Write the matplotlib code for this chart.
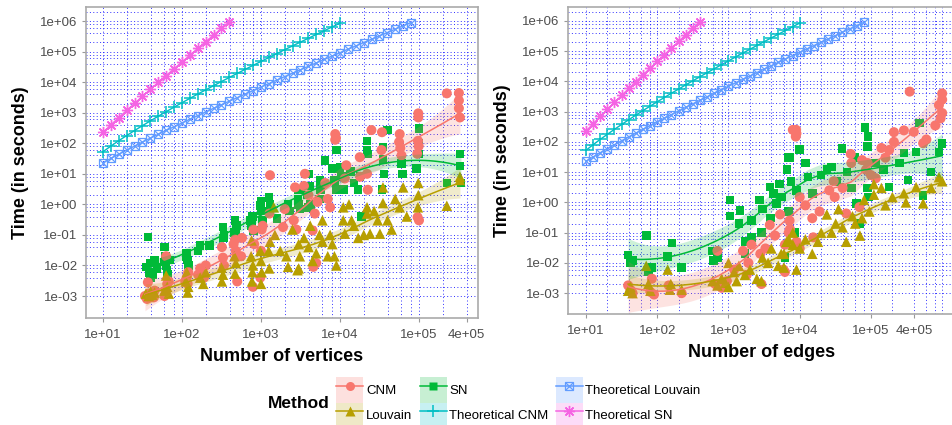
#! /usr/bin/env python3
import numpy as np
import matplotlib
matplotlib.use('Agg')
import matplotlib.pyplot as plt
from matplotlib.lines import Line2D
from matplotlib.patches import Patch
from matplotlib.ticker import NullLocator

plt.rcParams['font.family'] = ['Liberation Sans', 'DejaVu Sans']

# ---- data ------------------------------------------------------------------
# left panel: number of vertices vs time (s)
sn_v = [37, 35, 38, 40, 42, 45, 48, 40, 60, 62, 63, 65, 60, 66, 70, 115, 118,
        112, 120, 170, 160, 224, 330, 340, 335, 470, 480, 460, 500, 780, 760,
        800, 740, 1000, 1000, 1050, 980, 1260, 1300, 1250, 1600, 2200, 2300,
        3000, 2950, 3100, 3000, 4000, 4100, 3900, 4200, 4000, 5600, 5700, 5500,
        6500, 8000, 8500, 9000, 10000, 11000, 10500, 9100, 13500, 15000, 18000,
        17000, 22000, 22000, 22500, 18600, 35000, 35000, 36000, 34000, 40000,
        60000, 62000, 93000, 100000, 100000, 100000, 225000, 330000, 330000,
        340000]
sn_v_t = [0.085, 0.009, 0.006, 0.012, 0.005, 0.015, 0.008, 0.004, 0.04, 0.02,
          0.01, 0.007, 0.013, 0.005, 0.015, 0.025, 0.015, 0.02, 0.01, 0.045,
          0.03, 0.045, 0.18, 0.1, 0.08, 0.3, 0.15, 0.12, 0.2, 0.4, 0.2, 0.14,
          0.3, 1.3, 0.6, 0.3, 0.9, 1.7, 1.0, 0.6, 0.35, 1.0, 0.6, 3, 1.5, 0.7,
          1.0, 10, 4, 2, 1.0, 0.8, 6, 3, 1.5, 27, 15, 6, 3, 16, 3, 8, 60, 12, 5,
          8, 3, 120, 60, 45, 0.4, 75, 30, 10, 3, 270, 22, 10, 15, 300, 100, 45,
          5, 45, 18, 5]

cnm_v = [34, 36, 38, 40, 42, 45, 37, 44, 60, 62, 63, 65, 68, 115, 110, 120,
         118, 160, 170, 190, 200, 330, 320, 340, 470, 480, 500, 450, 575, 560,
         800, 790, 820, 1020, 1000, 1050, 980, 1300, 1280, 1900, 2000, 2700,
         2800, 2600, 3600, 3500, 4500, 5000, 4600, 4000, 4800, 5200, 8700, 8700,
         8900, 7000, 6500, 7500, 12000, 11500, 17800, 18000, 22000, 22500,
         25000, 34000, 33500, 57000, 56000, 58000, 60000, 98000, 98000, 97000,
         99000, 96000, 100000, 95000, 225000, 320000, 320000, 320000, 330000]
cnm_v_t = [0.001, 0.0008, 0.0012, 0.0009, 0.001, 0.0015, 0.0028, 0.0009,
           0.001, 0.0015, 0.02, 0.0025, 0.003, 0.004, 0.003, 0.006, 0.0025,
           0.005, 0.008, 0.004, 0.01, 0.018, 0.04, 0.01, 0.07, 0.03, 0.003,
           0.05, 0.08, 0.02, 0.15, 0.002, 0.05, 0.15, 0.03, 0.2, 0.004, 9, 0.5,
           0.18, 0.7, 3.6, 0.15, 0.3, 10, 4, 0.14, 0.012, 0.009, 2, 0.5, 1.2,
           200, 130, 150, 1.5, 5, 0.8, 19, 7, 35, 8, 10, 3, 270, 230, 60, 200,
           110, 70, 40, 950, 700, 120, 80, 0.38, 0.3, 45, 4300, 4400, 2500,
           1400, 700]

lv_v = [35, 38, 40, 42, 45, 63, 65, 60, 68, 115, 112, 118, 120, 186, 170, 200,
        316, 320, 330, 470, 480, 460, 760, 750, 780, 770, 790, 1000, 1000, 1020,
        980, 1250, 1270, 1300, 1450, 1750, 2200, 2100, 3000, 2900, 3100, 3500,
        4000, 4500, 5000, 6000, 7000, 7500, 8000, 5500, 4200, 11000, 11000,
        11500, 17000, 22000, 22000, 24000, 32000, 35000, 35000, 40000, 57000,
        63000, 98000, 98000, 97000, 225000, 330000, 330000, 1500, 2500, 6000,
        9000, 8500, 14000, 20000, 30000, 45000, 70000, 50000, 3000, 15000,
        13000, 27000]
lv_v_t = [0.0012, 0.001, 0.0014, 0.0011, 0.0013, 0.0047, 0.002, 0.0015,
          0.0012, 0.006, 0.003, 0.0013, 0.002, 0.0025, 0.004, 0.006, 0.0085,
          0.003, 0.005, 0.0054, 0.012, 0.02, 0.066, 0.02, 0.006, 0.003, 0.01,
          0.014, 0.0025, 0.006, 0.03, 0.03, 0.008, 0.06, 0.8, 0.03, 0.009, 0.02,
          0.05, 0.007, 0.02, 0.08, 0.04, 0.014, 0.025, 0.06, 0.02, 0.1, 0.05,
          0.1, 0.2, 0.8, 0.3, 0.11, 0.08, 0.8, 0.5, 0.11, 0.11, 3.6, 1.1, 0.3,
          0.8, 3.6, 5, 2, 0.8, 0.9, 8, 6.3, 0.1, 0.15, 0.3, 0.01, 0.02, 0.3,
          0.1, 0.3, 0.15, 0.4, 1.5, 0.008, 0.2, 1.0, 0.6]

# right panel: number of edges vs time (s)
sn_e = [39, 71, 84, 140, 160, 220, 600, 620, 700, 1050, 1050, 1450, 1400,
        1700, 1700, 2100, 2100, 2750, 2900, 3800, 3900, 4700, 5200, 5500, 6800,
        6900, 6200, 7200, 6600, 7500, 9000, 10000, 13000, 15000, 24000, 33000,
        39000, 46000, 53000, 83000, 91000, 90000, 90000, 92000, 63000, 70000,
        115000, 180000, 290000, 330000, 430000, 480000, 540000, 900000,
        1000000, 8500, 42, 45, 75, 3000, 4300, 12000, 20000, 28000, 60000,
        150000, 250000, 700000]
sn_e_t = [0.018, 0.08, 0.007, 0.016, 0.045, 0.007, 0.025, 0.012, 0.015, 1.2,
          0.35, 0.55, 0.2, 0.05, 0.02, 0.25, 0.07, 1.2, 0.1, 3.2, 0.3, 0.9, 4,
          1.5, 30, 0.5, 0.015, 30, 12, 5, 2.5, 55, 7, 2, 12, 5, 60, 10, 3, 300,
          150, 70, 3, 1.5, 0.9, 0.2, 20, 3.2, 43, 5.5, 47, 420, 1.7, 47, 90,
          0.1, 0.01, 0.012, 0.005, 0.6, 2, 20, 8, 15, 30, 12, 20, 10]

cnm_e = [39, 45, 42, 84, 80, 90, 145, 220, 650, 800, 950, 700, 1600, 1800,
         1900, 2100, 2800, 2900, 3800, 4500, 5900, 6200, 7200, 7300, 8000, 9000,
         8900, 8800, 10000, 5300, 7000, 9000, 10000, 6200, 15000, 15500, 19000,
         26000, 30000, 31000, 45000, 52000, 53000, 69000, 90000, 100000,
         117000, 140000, 180000, 210000, 210000, 290000, 400000, 350000,
         540000, 1000000, 900000, 1000000, 75000, 85000, 1200, 3300, 12000,
         40000, 160000, 600000, 1000000, 950000, 800000]
cnm_e_t = [0.0018, 0.001, 0.0013, 0.003, 0.0011, 0.0009, 0.0018, 0.001, 0.002,
           0.0015, 0.0025, 0.025, 0.025, 0.004, 0.01, 0.04, 0.02, 0.002, 0.18,
           0.08, 0.006, 0.04, 0.25, 0.13, 250, 190, 250, 150, 1.5, 0.4, 0.1,
           0.05, 0.03, 0.005, 0.3, 0.07, 0.5, 2.5, 5, 1.5, 0.43, 40, 20, 0.7,
           20, 8, 6.3, 63, 54, 210, 100, 240, 215, 4600, 90, 4000, 1650, 900,
           25, 12, 0.006, 0.03, 0.8, 3, 30, 120, 2500, 600, 350]

lv_e = [39, 42, 45, 70, 75, 80, 140, 155, 150, 220, 600, 700, 800, 900, 1000,
        1000, 1200, 1400, 1700, 2000, 2500, 2900, 1300, 3600, 4000, 5000, 6000,
        7000, 8000, 5500, 6500, 8000, 10000, 12000, 15000, 18000, 6000, 9000,
        24000, 28000, 32000, 40000, 45000, 55000, 70000, 75000, 80000, 95000,
        110000, 140000, 160000, 290000, 310000, 430000, 540000, 900000,
        1000000, 110000, 60000, 20000, 35000, 3000, 200000, 700000]
lv_e_t = [0.0012, 0.0016, 0.001, 0.008, 0.002, 0.0012, 0.006, 0.002, 0.0013,
          0.0013, 0.0025, 0.0018, 0.003, 0.0022, 0.0016, 0.01, 0.005, 0.008,
          0.004, 0.006, 0.003, 0.0025, 0.0025, 0.01, 0.03, 0.008, 0.02, 0.06,
          0.04, 0.02, 0.05, 0.1, 0.03, 0.06, 0.02, 0.05, 0.007, 0.006, 0.4, 0.1,
          0.2, 0.15, 0.05, 0.35, 0.08, 0.3, 1.2, 0.5, 1.8, 3, 0.8, 2, 1, 3.2,
          0.93, 6.8, 5, 4, 0.2, 0.1, 0.6, 0.015, 1.5, 3]

# theoretical curves (same in both panels)
theo_n = [10, 12.6, 15.8, 20, 25.1, 31.6, 39.8, 50.1, 63.1, 79.4, 100, 126,
          158, 200, 251, 316, 398, 501, 631, 794, 1000, 1259, 1585, 1995, 2512,
          3162, 3981, 5012, 6310, 7943, 10000, 12589, 15849, 19953, 25119,
          31623, 39811, 50119, 63096, 79433]
theo_louvain = [23.0, 31.9, 43.8, 59.7, 81.0, 109, 147, 196, 262, 348, 461,
                609, 803, 1057, 1388, 1820, 2383, 3116, 4068, 5304, 6908, 8986,
                11678, 15161, 19665, 25485, 33000, 42699, 55208, 71332, 92103,
                118850, 153280, 197560, 254480, 327680, 421680, 542400, 697340,
                896240]
theo_cnm = [53.0, 80.8, 121, 179, 261, 377, 540, 768, 1084, 1520, 2121, 2943,
            4067, 5596, 7671, 10479, 14269, 19372, 26227, 35418, 47717, 64144,
            86048, 115200, 153960, 205380, 273550, 363780, 483060, 640560,
            848300]
theo_sn = [230, 401, 694, 1192, 2034, 3454, 5839, 9833, 16500, 27604, 46052,
           76636, 127240, 210830, 348680, 575650, 948830]

methods = ['CNM', 'Louvain', 'SN', 'Theoretical CNM', 'Theoretical Louvain',
           'Theoretical SN']
colors = {'CNM': '#F8766D', 'Louvain': '#B79F00', 'SN': '#00BA38',
          'Theoretical CNM': '#00BFC4', 'Theoretical Louvain': '#619CFF',
          'Theoretical SN': '#F564E3'}

xtick_vals = [1e1, 1e2, 1e3, 1e4, 1e5, 4e5]
xtick_labels = ['1e+01', '1e+02', '1e+03', '1e+04', '1e+05', '4e+05']
ytick_vals = [1e-3, 1e-2, 1e-1, 1e0, 1e1, 1e2, 1e3, 1e4, 1e5, 1e6]
ytick_labels = ['1e-03', '1e-02', '1e-01', '1e+00', '1e+01', '1e+02', '1e+03',
                '1e+04', '1e+05', '1e+06']


def loess(x, y, grid, span=0.75):
    """Local quadratic regression (tricube weights), like R's loess."""
    n = len(x)
    q = int(np.floor(span * n))

    def weights(x0):
        d = np.abs(x - x0)
        h = np.sort(d)[q - 1]
        w = np.clip(1 - (d / h) ** 3, 0, None) ** 3
        X = np.column_stack([np.ones(n), x - x0, (x - x0) ** 2])
        XtW = X.T * w
        return (np.linalg.pinv(XtW @ X) @ XtW)[0]

    L = np.array([weights(x0) for x0 in x])
    res = y - L @ y
    sigma2 = np.sum(res ** 2) / (n - np.trace(L))
    fit, ci = [], []
    for g in grid:
        l = weights(g)
        fit.append(l @ y)
        ci.append(1.96 * np.sqrt(sigma2 * (l @ l)))
    return np.array(fit), np.array(ci)


def draw_panel(ax, pts, xlim, ylim, xlabel, vgrid_max):
    ax.set_xscale('log')
    ax.set_yscale('log')
    ax.set_xlim(10 ** xlim[0], 10 ** xlim[1])
    ax.set_ylim(10 ** ylim[0], 10 ** ylim[1])

    # dotted blue grid at 1, 2, 4, 6, 8 x 10^k
    mult = [1, 2, 4, 6, 8]
    for k in range(-3, 7):
        for m in mult:
            ax.axhline(m * 10.0 ** k, color='#1818FF', lw=0.7,
                       ls=(0, (1, 2.5)), alpha=0.9, zorder=0)
    for k in range(1, 7):
        for m in mult:
            v = m * 10.0 ** k
            if v <= vgrid_max:
                ax.axvline(v, color='#1818FF', lw=0.7, ls=(0, (1, 2.5)),
                           alpha=0.9, zorder=0)

    # empirical points
    marker = {'SN': ('s', 38), 'CNM': ('o', 52), 'Louvain': ('^', 58)}
    for m in ['SN', 'CNM', 'Louvain']:
        x, y = pts[m]
        mk, s = marker[m]
        ax.scatter(x, y, marker=mk, s=s, color=colors[m], edgecolors='none',
                   zorder=2)

    # loess smooths with 95% band
    for m in ['CNM', 'Louvain', 'SN']:
        x, y = pts[m]
        lx, ly = np.log10(x), np.log10(y)
        grid = np.linspace(lx.min(), lx.max(), 80)
        fit, ci = loess(lx, ly, grid)
        ax.fill_between(10 ** grid, 10 ** (fit - ci), 10 ** (fit + ci),
                        color=colors[m], alpha=0.2, lw=0, zorder=3)
        ax.plot(10 ** grid, 10 ** fit, color=colors[m], lw=1.1, zorder=4)

    # theoretical curves
    c = colors['Theoretical Louvain']
    ax.plot(theo_n, theo_louvain, color=c, lw=1, marker='s', ms=5.5,
            mfc='none', mec=c, mew=0.9, zorder=5)
    ax.plot(theo_n, theo_louvain, ls='none', marker='x', ms=5.5, mec=c,
            mew=0.9, zorder=5)
    ax.plot(theo_n[:len(theo_cnm)], theo_cnm, color=colors['Theoretical CNM'],
            lw=1, marker='+', ms=8, mew=1.1, zorder=5)
    ax.plot(theo_n[:len(theo_sn)], theo_sn, color=colors['Theoretical SN'],
            lw=1, marker=(8, 2, 0), ms=8, mew=1.0, zorder=5)

    ax.set_xticks(xtick_vals)
    ax.set_xticklabels(xtick_labels)
    ax.set_yticks(ytick_vals)
    ax.set_yticklabels(ytick_labels)
    ax.xaxis.set_minor_locator(NullLocator())
    ax.yaxis.set_minor_locator(NullLocator())
    ax.tick_params(axis='both', length=3, width=0.8, color='#999999',
                   labelcolor='#4D4D4D', labelsize=9.5, pad=3)
    ax.tick_params(axis='x', pad=5)
    for sp in ax.spines.values():
        sp.set_color('#AAAAAA')
        sp.set_linewidth(1.2)
    ax.set_xlabel(xlabel, fontsize=13, fontweight='bold', labelpad=5)
    ax.set_ylabel('Time (in seconds)', fontsize=13, fontweight='bold',
                  labelpad=8)


fig = plt.figure(figsize=(9.52, 4.25), dpi=100)
W, H = 952, 425

ax1 = fig.add_axes([86 / W, (H - 318) / H, 392 / W, 311 / H])
draw_panel(ax1, {'SN': (np.array(sn_v), np.array(sn_v_t)),
                 'CNM': (np.array(cnm_v), np.array(cnm_v_t)),
                 'Louvain': (np.array(lv_v), np.array(lv_v_t))},
           (0.785, 5.747), (-3.72, 6.46), 'Number of vertices', 4.1e5)

ax2 = fig.add_axes([568 / W, (H - 314) / H, 387 / W, 307 / H])
draw_panel(ax2, {'SN': (np.array(sn_e), np.array(sn_e_t)),
                 'CNM': (np.array(cnm_e), np.array(cnm_e_t)),
                 'Louvain': (np.array(lv_e), np.array(lv_e_t))},
           (0.747, 6.18), (-3.69, 6.46), 'Number of edges', 1.1e6)

# legend
handles = []
for m in methods:
    c = colors[m]
    bg = Patch(facecolor=c, alpha=0.22, edgecolor='none')
    if m == 'CNM':
        h = (bg, Line2D([], [], color=c, lw=1.1, marker='o', ms=6.5, mec='none'))
    elif m == 'Louvain':
        h = (bg, Line2D([], [], color=c, lw=1.1, marker='^', ms=7, mec='none'))
    elif m == 'SN':
        h = (bg, Line2D([], [], color=c, lw=1.1, marker='s', ms=5.5, mec='none'))
    elif m == 'Theoretical CNM':
        h = (bg, Line2D([], [], color=c, lw=1.1, marker='+', ms=8, mew=1.1))
    elif m == 'Theoretical Louvain':
        h = (bg, Line2D([], [], color=c, lw=1.1, marker='s', ms=5.5,
                        mfc='none', mew=0.9),
             Line2D([], [], color=c, lw=0, marker='x', ms=5.5, mew=0.9))
    else:
        h = (bg, Line2D([], [], color=c, lw=1.1, marker=(8, 2, 0), ms=8,
                        mew=1.0))
    handles.append(h)

fig.legend(handles, methods, ncol=3, loc='center',
           bbox_to_anchor=(518.5 / W, 1 - 402.5 / H), frameon=False,
           fontsize=9.5, handlelength=2.05, handleheight=2.54,
           handletextpad=0.2, columnspacing=0.55, labelspacing=0.0,
           borderpad=0, numpoints=1)
fig.text(299 / W, 1 - 403 / H, 'Method', ha='center', va='center',
         fontsize=12.5, fontweight='bold')

fig.savefig('out.png', dpi=100)
